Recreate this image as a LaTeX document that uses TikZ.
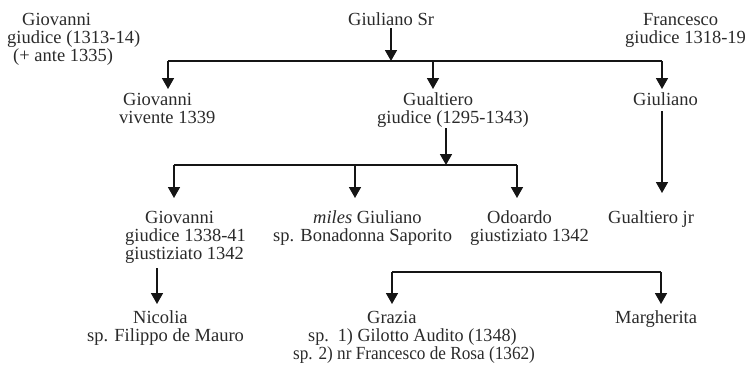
\documentclass[tikz,border=0pt]{standalone}
\usepackage{fontspec}
\usepackage{graphicx}
\setmainfont{Liberation Serif}
\usetikzlibrary{arrows.meta}
\definecolor{ink}{HTML}{2A2A2A}
\definecolor{wire}{HTML}{151515}
\tikzset{
  % each name block is placed by the baseline of its last line
  person/.style={anchor=base west, inner sep=0pt, align=left, text=ink,
    font=\fontsize{18.5}{18}\selectfont},
  bar/.style={draw=wire, line width=1.6pt},
  drop/.style={draw=wire, line width=1.6pt, -{Triangle[length=11pt,width=12pt]}},
}
\begin{document}
\begin{tikzpicture}[x=1pt,y=-1pt]
\useasboundingbox (0,0) rectangle (745,365);

% --- first generation
\node[person] (gio0) at (7,61) {\hspace*{15pt}Giovanni\\giudice (1313-14)\\\hspace*{6pt}(+ ante 1335)};
\node[person] (gsr) at (348,25) {Giuliano Sr};
\node[person] (fra) at (625,43) {\hspace*{18pt}Francesco\\giudice 1318-19};

% --- second generation
\node[person] (gio1) at (119,123) {\hspace*{4pt}Giovanni\\vivente 1339};
\node[person] (gua) at (377,123) {\hspace*{26pt}Gualtiero\\giudice (1295-1343)};
\node[person] (giu1) at (633,105) {Giuliano};

% --- third generation
\node[person] (gio2) at (125,259) {\hspace*{20pt}Giovanni\\giudice 1338-41\\giustiziato 1342};
\node[person] (mil) at (273,241) {\hspace*{40pt}\textit{miles} Giuliano\\sp. Bonadonna Saporito};
\node[person] (odo) at (470,241) {\hspace*{17pt}Odoardo\\giustiziato 1342};
\node[person] (gjr) at (608,223) {Gualtiero jr};

% --- fourth generation
\node[person] (nic) at (87,341) {\hspace*{46pt}Nicolia\\sp. Filippo de Mauro};
\node[person] (gra) at (293,359) {\hspace*{74pt}Grazia\\\hspace*{15pt}\scalebox{0.98}[1]{sp.\ \ 1) Gilotto Audito (1348)}\\\scalebox{0.93}[1]{sp. 2) nr Francesco de Rosa (1362)}};
\node[person] (mar) at (615,323) {Margherita};

% --- junction points of the sibling bars
\coordinate (b1w) at (168,61);  \coordinate (b1s) at (391,61);
\coordinate (b1m) at (433,61);  \coordinate (b1e) at (662,61);
\coordinate (b2w) at (174,165); \coordinate (b2m) at (355,165);
\coordinate (b2s) at (446,165); \coordinate (b2e) at (517,165);
\coordinate (b3w) at (392,272); \coordinate (b3e) at (661,272);

% --- arrow tips above the children
\coordinate (t1w) at (168,89);  \coordinate (t1m) at (433,89);  \coordinate (t1e) at (662,89);
\coordinate (t2w) at (174,198); \coordinate (t2m) at (355,198); \coordinate (t2e) at (517,198);
\coordinate (t3w) at (392,304); \coordinate (t3e) at (661,304);
\coordinate (gjrtip) at (662,193);
\coordinate (nictip) at (157,304);

% --- Giuliano Sr and his sons
\draw[drop] ([yshift=-3pt]gsr.south -| b1s) -- (b1s);
\draw[bar] (b1w) -- (b1e);
\draw[drop] (b1w) -- (t1w);
\draw[drop] (b1m) -- (t1m);
\draw[drop] (b1e) -- (t1e);

% --- sons of Gualtiero
\draw[drop] ([yshift=-1pt]gua.south -| b2s) -- (b2s);
\draw[bar] (b2w) -- (b2e);
\draw[drop] (b2w) -- (t2w);
\draw[drop] (b2m) -- (t2m);
\draw[drop] (b2e) -- (t2e);

% --- Giuliano to Gualtiero jr
\draw[drop] ([yshift=-6pt]giu1.south -| gjrtip) -- (gjrtip);

% --- Giovanni to Nicolia
\draw[drop] ([yshift=-5pt]gio2.south -| nictip) -- (nictip);

% --- Grazia and Margherita
\draw[bar] (b3w) -- (b3e);
\draw[drop] (b3w) -- (t3w);
\draw[drop] (b3e) -- (t3e);
\end{tikzpicture}
\end{document}
